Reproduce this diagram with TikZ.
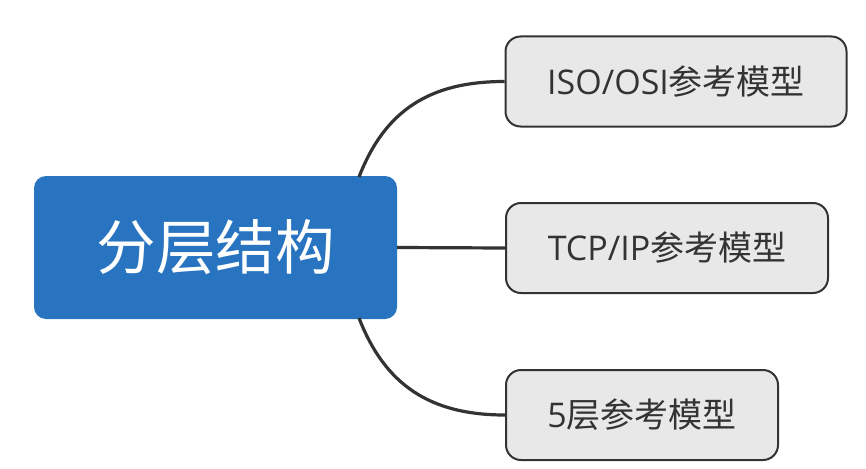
\documentclass[tikz,border=0pt]{standalone}
\usepackage{fontspec}
\setmainfont{Open Sans}
\newfontfamily\cjk{Noto Sans CJK SC}
\begin{document}
\begin{tikzpicture}[x=1pt,y=-1pt,
  rootbox/.style={draw=none,fill=rootblue,rounded corners=12pt,text=white,font=\fontsize{59.5}{66}\selectfont\cjk,inner sep=0pt},
  leafbox/.style={draw=linegray,line width=2pt,fill=leafgray,rounded corners=15pt,text=textgray,font=\fontsize{34}{38}\selectfont,inner sep=0pt},
  link/.style={draw=linegray,line width=3.2pt}]
\definecolor{rootblue}{HTML}{2874C0}
\definecolor{leafgray}{HTML}{E8E8E8}
\definecolor{linegray}{HTML}{333333}
\definecolor{textgray}{HTML}{333333}
\useasboundingbox (0,0) rectangle (866,468);
\node[rootbox,minimum width=363pt,minimum height=143pt] (root) at (215.5,247.5) {分层结构};
\node[leafbox,minimum width=341pt,minimum height=90pt] (a) at (676,81.5) {ISO/OSI{\cjk 参考模型}};
\node[leafbox,minimum width=322pt,minimum height=90pt] (b) at (667,248) {TCP/IP{\cjk 参考模型}};
\node[leafbox,minimum width=272pt,minimum height=90pt] (c) at (642,415) {5{\cjk 层参考模型}};
\coordinate (rt) at (359,177);
\coordinate (rb) at (359,318);
\draw[link] (rt) .. controls (385,110) and (430,81.5) .. (a.west);
\draw[link] (root.east) -- (b.west);
\draw[link] (rb) .. controls (385,385) and (430,415) .. (c.west);
\end{tikzpicture}
\end{document}
